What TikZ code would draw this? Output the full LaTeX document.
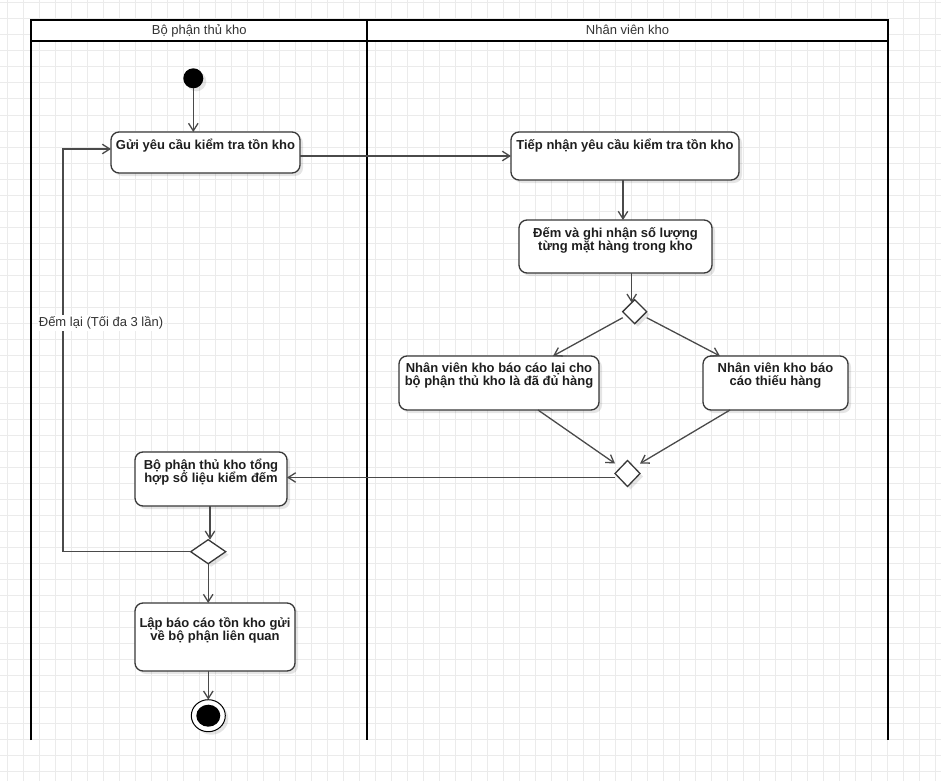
\documentclass[tikz,border=0pt]{standalone}
\usepackage{fontspec}
\setmainfont{Liberation Sans}
\usetikzlibrary{arrows.meta,shapes.geometric,shadows}

\definecolor{gridgray}{HTML}{EBEBEB}
\definecolor{boxline}{HTML}{383838}
\definecolor{flowline}{HTML}{4A4A4A}
\definecolor{labelink}{HTML}{1E1E1E}
\definecolor{headink}{HTML}{333333}

% keeps the first line of every activity caption at a fixed height
\newcommand{\capstrut}{\rule{0pt}{14pt}}

\begin{document}
\begin{tikzpicture}[x=1pt, y=-1pt,
  every node/.style={inner sep=0pt, outer sep=0pt},
  softshadow/.style={drop shadow={shadow xshift=3pt, shadow yshift=-3pt, fill=black, opacity=0.1}},
  actbox/.style={draw=boxline, line width=1.3pt, fill=white, rounded corners=8pt, softshadow},
  acttext/.style={font={\bfseries\fontsize{13}{13}\selectfont\lineskiplimit=-100pt}, text=labelink, align=center, anchor=north},
  choice/.style={diamond, draw=boxline, line width=1.3pt, fill=white, softshadow},
  flow/.style={draw=flowline, line width=1.3pt, -{Straight Barb[length=7.5pt,width=9.5pt]}},
  lanetitle/.style={font={\fontsize{13}{13}\selectfont}, text=headink, anchor=base},
  lane/.style={draw=black, line width=2pt},
]

% page and background grid
\useasboundingbox (0,0) rectangle (941,781);
\fill[white] (0,0) rectangle (941,781);
\foreach \gx in {7,23,...,935} \draw[gridgray, line width=1pt] (\gx,0) -- (\gx,781);
\foreach \gy in {3,19,...,771} \draw[gridgray, line width=1pt] (0,\gy) -- (941,\gy);

% swimlanes
\fill[white] (31,20) rectangle (888,41);
\draw[lane] (31,740) -- (31,20) -- (888,20) -- (888,740);
\draw[lane] (31,41) -- (888,41);
\draw[lane] (367,20) -- (367,740);
\node[lanetitle] (laneA) at (199.3,34.3) {Bộ phận thủ kho};
\node[lanetitle] (laneB) at (627.5,34.3) {Nhân viên kho};

% start and end
\node[circle, fill=black, minimum size=20pt, softshadow] (start) at (193.3,78.3) {};
\node[ellipse, draw=black, line width=1pt, fill=white, minimum width=34pt, minimum height=32pt, softshadow] (fin) at (208.3,715.7) {};
\fill[black] (fin.center) ellipse [x radius=12pt, y radius=11pt];

% activities
\node[actbox, minimum width=189pt, minimum height=41pt,
  label={[acttext, yshift=-3.5pt]north:{\capstrut Gửi yêu cầu kiểm tra tồn kho}}] (gui) at (205.5,152.5) {};
\node[actbox, minimum width=228pt, minimum height=48pt,
  label={[acttext, yshift=-3pt]north:{\capstrut Tiếp nhận yêu cầu kiểm tra tồn kho}}] (tiep) at (625,156) {};
\node[actbox, minimum width=193pt, minimum height=53pt,
  label={[acttext, yshift=-3.3pt]north:{\capstrut Đếm và ghi nhận số lượng\\từng mặt hàng trong kho}}] (dem) at (615.5,246.5) {};
\node[actbox, minimum width=200pt, minimum height=54pt,
  label={[acttext, yshift=-2.7pt]north:{\capstrut Nhân viên kho báo cáo lại cho\\bộ phận thủ kho là đã đủ hàng}}] (du) at (499,383) {};
\node[actbox, minimum width=145pt, minimum height=54pt,
  label={[acttext, yshift=-2.7pt]north:{\capstrut Nhân viên kho báo\\cáo thiếu hàng}}] (thieu) at (775.5,383) {};
\node[actbox, minimum width=152pt, minimum height=54pt,
  label={[acttext, yshift=-3.6pt]north:{\capstrut Bộ phận thủ kho tổng\\hợp số liệu kiểm đếm}}] (tong) at (211,479) {};
\node[actbox, minimum width=160pt, minimum height=68pt,
  label={[acttext, yshift=-10.4pt]north:{\capstrut Lập báo cáo tồn kho gửi\\về bộ phận liên quan}}] (lap) at (215,637) {};

% decisions and merges
\node[choice, minimum width=24pt, minimum height=24pt] (d1) at (634.7,311.7) {};
\node[choice, minimum width=25pt, minimum height=26pt] (d2) at (627.5,473.5) {};
\node[choice, minimum width=35pt, minimum height=24pt] (d3) at (208.2,551.7) {};

% flows
\draw[flow] (start) -- (start |- gui.north);
\draw[flow] (gui.east |- tiep.west) -- (tiep.west);
\draw[flow] ([xshift=-2pt]tiep.south) -- ([xshift=-2pt]tiep.south |- dem.north);
\draw[flow] ([xshift=-3pt]dem.south -| d1.north) -- ([xshift=-3pt,yshift=-3pt]d1.north);
\draw[flow] ([yshift=-6pt]d1.west) -- ([xshift=54pt]du.north);
\draw[flow] ([yshift=-6pt]d1.east) -- ([xshift=-55.5pt]thieu.north);
\draw[flow] ([xshift=39pt]du.south) -- ([yshift=10pt]d2.west);
\draw[flow] ([xshift=-45.5pt]thieu.south) -- ([yshift=10pt]d2.east);
\draw[flow] ([yshift=-4pt]d2.west) -- ([yshift=-4pt]d2.west -| tong.east);
\draw[flow] ([xshift=-1pt]tong.south) -- ([xshift=-1pt]tong.south |- d3.north);
\coordinate (loopturn) at (63,149);
\draw[flow] (d3.west) -| (loopturn) -- (gui.west |- loopturn);
\draw[flow] (d3.south) -- (d3.south |- lap.north);
\draw[flow] (fin.north |- lap.south) -- (fin.north);

% guard on the recount loop
\node[fill=white, inner xsep=1pt, inner ysep=1.5pt, font={\fontsize{13}{13}\selectfont}, text=headink, anchor=base] (redo) at (101,326.5) {Đếm lại (Tối đa 3 lần)};

\end{tikzpicture}
\end{document}
